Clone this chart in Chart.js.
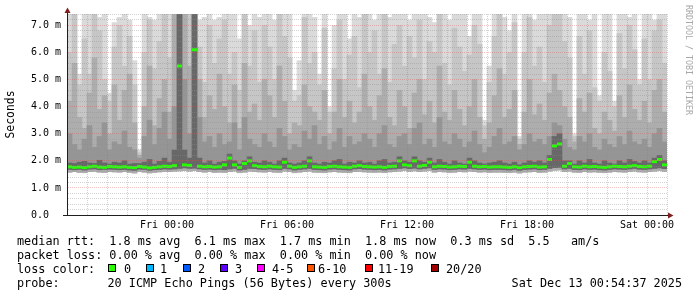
<!DOCTYPE html>
<html>
<head>
<meta charset="utf-8">
<script src="https://cdn.jsdelivr.net/npm/chart.js@4.4.1/dist/chart.umd.min.js"></script>
<style>
  html, body { margin: 0; padding: 0; background: #fff; }
  canvas { display: block; }
</style>
</head>
<body>
<canvas id="smokeChart" width="697" height="297"></canvas>
<script>
// 15 minute columns, Thu 19:00 .. Sat 01:00 (hours from start on the x axis)
const stepHours = 0.25;

const medianRtt = [
  1.78, 1.76, 1.77, 1.75, 1.78, 1.80, 1.77, 1.76, 1.79, 1.78,
  1.77, 1.78, 1.76, 1.75, 1.79, 1.77, 1.74, 1.76, 1.78, 1.80,
  1.79, 1.82, 5.50, 1.85, 1.83, 6.10, 1.80, 1.78, 1.79, 1.77,
  1.78, 1.85, 2.10, 1.85, 1.76, 1.90, 2.00, 1.82, 1.79, 1.78,
  1.80, 1.78, 1.77, 1.95, 1.80, 1.76, 1.78, 1.80, 2.00, 1.78,
  1.77, 1.76, 1.79, 1.80, 1.78, 1.77, 1.76, 1.80, 1.82, 1.79,
  1.78, 1.77, 1.78, 1.76, 1.79, 1.80, 2.00, 1.85, 1.82, 2.00,
  1.80, 1.83, 1.95, 1.78, 1.80, 1.79, 1.77, 1.78, 1.80, 1.79,
  1.95, 1.80, 1.78, 1.79, 1.77, 1.78, 1.78, 1.77, 1.76, 1.78,
  1.75, 1.78, 1.79, 1.80, 1.77, 1.78, 2.05, 2.55, 2.62, 1.80,
  1.90, 1.78, 1.77, 1.80, 1.78, 1.79, 1.77, 1.76, 1.78, 1.80,
  1.79, 1.78, 1.80, 1.82, 1.79, 1.78, 1.80, 1.97, 2.05, 1.85
];

// smoke: highest pings (lightest) down to the ones next to the median (darkest)
const smoke1 = [
  7.5, 7.5, 5.2, 7.5, 7.5, 7.5, 7.3, 7.5, 4.5, 7.1,
  7.3, 7.5, 7.2, 5.7, 2.4, 7.5, 7.3, 7.2, 7.5, 7.5,
  7.5, 7.5, 7.5, 7.5, 7.5, 7.5, 7.2, 7.3, 7.5, 7.2,
  7.3, 7.5, 7.5, 7.5, 6.5, 7.5, 7.0, 7.5, 7.3, 7.5,
  7.5, 7.2, 7.5, 7.5, 7.5, 4.6, 5.7, 7.5, 7.5, 7.3,
  5.2, 7.5, 4.0, 7.0, 7.5, 7.5, 6.5, 7.5, 7.3, 7.5,
  7.5, 7.2, 7.5, 7.5, 7.3, 7.5, 7.5, 7.5, 7.2, 7.5,
  7.5, 7.5, 7.3, 7.1, 7.5, 7.5, 7.2, 7.5, 7.5, 7.5,
  6.6, 7.5, 7.5, 3.5, 5.5, 7.5, 7.5, 7.3, 6.8, 7.5,
  2.9, 7.5, 7.5, 7.2, 7.5, 7.5, 7.5, 7.5, 7.5, 7.5,
  7.3, 3.0, 7.5, 7.5, 7.2, 7.5, 4.4, 7.5, 7.5, 4.2,
  7.5, 7.5, 7.3, 7.5, 5.0, 7.5, 7.5, 7.2, 7.5, 7.5
];
const smoke2 = [
  6.0, 7.5, 4.8, 6.5, 5.2, 7.5, 6.8, 5.0, 4.2, 6.2,
  7.0, 5.5, 6.6, 4.8, 2.3, 6.0, 7.2, 5.4, 6.4, 7.5,
  5.8, 7.5, 7.5, 7.5, 7.5, 7.5, 6.2, 4.9, 7.0, 5.6,
  6.5, 7.2, 5.2, 6.0, 4.6, 7.5, 5.5, 6.8, 4.9, 7.0,
  6.2, 5.0, 7.5, 6.6, 5.8, 4.2, 4.4, 7.3, 5.6, 6.0,
  4.8, 6.9, 3.8, 5.4, 7.2, 5.0, 5.9, 6.6, 4.7, 7.5,
  6.0, 6.8, 5.2, 7.5, 4.9, 6.3, 7.0, 5.5, 6.6, 5.8,
  7.2, 5.0, 6.4, 6.0, 7.5, 5.6, 4.8, 6.9, 6.2, 5.3,
  5.9, 7.0, 6.3, 3.3, 4.9, 6.6, 7.5, 5.2, 6.0, 7.1,
  2.8, 6.0, 7.3, 5.5, 6.2, 4.9, 7.0, 7.5, 7.5, 6.4,
  5.8, 2.9, 6.6, 5.2, 6.8, 4.7, 4.2, 6.0, 5.3, 4.0,
  6.7, 5.4, 7.0, 6.1, 4.8, 6.5, 5.0, 6.8, 7.2, 5.6
];
const smoke3 = [
  4.2, 5.6, 3.6, 3.2, 4.5, 5.8, 3.9, 4.4, 3.0, 4.8,
  3.5, 4.6, 5.2, 3.4, 2.2, 4.0, 5.5, 3.3, 4.3, 5.0,
  3.8, 7.5, 7.5, 7.5, 5.5, 7.5, 5.0, 3.6, 4.4, 3.9,
  5.2, 4.0, 3.4, 4.8, 3.2, 5.6, 3.8, 4.1, 3.5, 5.0,
  4.4, 3.6, 5.5, 4.2, 3.0, 3.4, 3.3, 4.8, 4.0, 3.8,
  3.5, 4.6, 3.0, 3.8, 5.0, 3.6, 4.2, 3.4, 3.8, 5.2,
  4.0, 3.5, 4.4, 5.4, 3.6, 3.3, 4.6, 4.0, 3.2, 4.5,
  5.0, 3.7, 4.2, 3.4, 5.5, 3.8, 3.5, 4.6, 3.9, 3.3,
  4.0, 5.0, 3.6, 2.8, 3.4, 4.4, 5.4, 3.6, 3.9, 4.6,
  2.6, 3.8, 5.0, 3.7, 4.1, 3.5, 4.5, 5.2, 4.6, 4.0,
  3.6, 2.7, 4.3, 3.8, 4.5, 3.2, 3.0, 3.8, 3.5, 3.1,
  4.4, 3.6, 4.8, 3.9, 3.5, 4.2, 3.4, 4.6, 5.0, 3.8
];
const smoke4 = [
  3.0, 2.6, 2.4, 2.8, 3.3, 2.5, 2.9, 3.4, 2.4, 2.7,
  2.6, 3.1, 2.5, 2.4, 2.1, 2.9, 3.5, 2.6, 3.2, 3.8,
  2.8, 4.0, 7.5, 5.0, 3.0, 7.5, 3.6, 2.7, 2.9, 2.5,
  3.0, 2.6, 2.7, 3.4, 2.4, 3.6, 2.8, 2.6, 2.5, 3.0,
  2.7, 2.5, 3.2, 2.9, 2.4, 2.6, 2.5, 3.1, 2.8, 3.3,
  2.6, 2.9, 2.4, 2.7, 3.2, 2.5, 2.9, 2.6, 2.7, 3.0,
  2.8, 2.5, 3.0, 3.3, 2.6, 2.5, 2.9, 3.0, 2.6, 3.2,
  3.4, 2.6, 2.8, 2.5, 3.6, 2.7, 2.6, 3.0, 2.8, 2.5,
  2.7, 3.1, 2.6, 2.3, 2.5, 2.9, 3.2, 2.6, 2.7, 2.9,
  2.4, 2.6, 3.0, 2.7, 2.8, 2.6, 2.9, 3.4, 3.3, 2.8,
  2.5, 2.4, 2.9, 2.7, 3.0, 2.5, 2.4, 2.8, 2.6, 2.5,
  2.9, 2.6, 3.1, 2.7, 2.6, 2.8, 2.5, 3.0, 3.2, 2.7
];
const smoke5 = [
  1.92, 1.90, 1.95, 1.98, 1.92, 1.90, 2.02, 1.92, 1.88, 1.95,
  1.92, 2.00, 1.88, 1.90, 1.90, 1.95, 2.05, 1.88, 1.98, 2.10,
  1.95, 2.40, 7.50, 2.40, 2.10, 7.50, 2.10, 1.92, 2.00, 1.88,
  1.95, 1.98, 2.25, 2.00, 1.88, 2.00, 2.15, 1.95, 1.92, 2.00,
  1.95, 1.88, 2.00, 2.10, 1.92, 1.88, 1.92, 2.00, 2.15, 1.92,
  1.88, 1.95, 1.92, 2.00, 2.05, 1.88, 1.95, 1.92, 2.00, 1.92,
  1.95, 1.88, 2.00, 2.05, 1.92, 1.95, 2.15, 2.00, 1.95, 2.15,
  2.00, 1.95, 2.10, 1.92, 2.05, 1.95, 1.88, 2.00, 1.92, 1.88,
  2.10, 2.00, 1.92, 1.88, 1.92, 1.95, 2.00, 1.92, 1.88, 1.95,
  1.85, 1.92, 2.00, 1.95, 2.00, 1.92, 2.20, 2.90, 3.00, 2.00,
  2.00, 1.88, 2.00, 1.92, 2.05, 1.92, 1.88, 2.00, 1.92, 1.88,
  2.00, 1.92, 2.05, 1.98, 1.92, 2.00, 1.92, 2.10, 2.20, 2.00
];
// lower pings, below the median
const pingLow = [
  1.68, 1.67, 1.68, 1.66, 1.69, 1.70, 1.67, 1.68, 1.69, 1.68,
  1.67, 1.68, 1.66, 1.65, 1.69, 1.68, 1.65, 1.67, 1.68, 1.70,
  1.69, 1.70, 1.72, 1.74, 1.72, 1.73, 1.70, 1.68, 1.69, 1.67,
  1.68, 1.67, 1.70, 1.72, 1.66, 1.68, 1.72, 1.71, 1.69, 1.68,
  1.70, 1.68, 1.67, 1.72, 1.70, 1.66, 1.68, 1.70, 1.72, 1.68,
  1.67, 1.66, 1.69, 1.70, 1.68, 1.67, 1.66, 1.70, 1.71, 1.69,
  1.68, 1.67, 1.68, 1.66, 1.69, 1.70, 1.72, 1.74, 1.71, 1.73,
  1.70, 1.72, 1.74, 1.68, 1.70, 1.69, 1.67, 1.68, 1.70, 1.69,
  1.72, 1.70, 1.68, 1.69, 1.67, 1.68, 1.68, 1.67, 1.66, 1.68,
  1.65, 1.68, 1.69, 1.70, 1.67, 1.68, 1.72, 1.75, 1.76, 1.70,
  1.72, 1.68, 1.67, 1.70, 1.68, 1.69, 1.67, 1.66, 1.68, 1.70,
  1.69, 1.68, 1.70, 1.72, 1.69, 1.68, 1.70, 1.72, 1.74, 1.71
];
const pingMin = [
  1.58, 1.60, 1.57, 1.56, 1.60, 1.61, 1.58, 1.57, 1.60, 1.59,
  1.58, 1.60, 1.57, 1.55, 1.60, 1.58, 1.55, 1.57, 1.59, 1.61,
  1.60, 1.62, 1.63, 1.64, 1.62, 1.64, 1.60, 1.58, 1.60, 1.57,
  1.58, 1.57, 1.60, 1.62, 1.56, 1.58, 1.62, 1.60, 1.59, 1.58,
  1.60, 1.58, 1.57, 1.62, 1.60, 1.56, 1.58, 1.60, 1.62, 1.58,
  1.57, 1.56, 1.59, 1.60, 1.58, 1.57, 1.56, 1.60, 1.61, 1.59,
  1.58, 1.57, 1.58, 1.56, 1.59, 1.60, 1.62, 1.64, 1.61, 1.63,
  1.60, 1.62, 1.64, 1.58, 1.60, 1.59, 1.57, 1.58, 1.60, 1.59,
  1.62, 1.60, 1.58, 1.59, 1.57, 1.58, 1.58, 1.57, 1.56, 1.58,
  1.55, 1.58, 1.59, 1.60, 1.57, 1.58, 1.62, 1.65, 1.66, 1.60,
  1.62, 1.58, 1.57, 1.60, 1.58, 1.59, 1.57, 1.56, 1.58, 1.60,
  1.59, 1.58, 1.60, 1.62, 1.59, 1.58, 1.60, 1.62, 1.64, 1.61
];

const xTickHours = [5, 11, 17, 23, 29];
const xTickLabels = ['Fri 00:00', 'Fri 06:00', 'Fri 12:00', 'Fri 18:00', 'Sat 00:00'];
const yTickLabels = ['0.0  ', '1.0 m', '2.0 m', '3.0 m', '4.0 m', '5.0 m', '6.0 m', '7.0 m'];

const rttStats = [1.8, 6.1, 1.7, 1.8, 0.3];
const rttStatNames = ['avg', 'max', 'min', 'now', 'sd'];
const ampsValue = 5.5;
const lossStats = [0, 0, 0, 0];
const lossStatNames = ['avg', 'max', 'min', 'now'];
const lossLabels = ['0', '1', '2', '3', '4-5', '6-10', '11-19', '20/20'];
const lossColors = ['#26ff00', '#00b8ff', '#0059ff', '#5e00ff', '#ff00ff', '#ff5500', '#ff0000', '#a10000'];
const probeText = '20 ICMP Echo Pings (56 Bytes) every 300s';
const stampText = 'Sat Dec 13 00:54:37 2025';

const mono = 'DejaVu Sans Mono';
const gridMinor = 'rgba(143,143,143,0.4)';
const gridMajor = 'rgba(222,79,79,0.35)';

const colX = medianRtt.map((_, i) => (i + 0.5) * stepHours);
function band(lo, hi) {
  return hi.map((v, i) => ({ x: colX[i], y: [lo[i], v] }));
}

const shades = ['#dadada', '#c6c6c6', '#adadad', '#959595', '#686868'];
const smokeSets = [
  band(pingMin, smoke1),
  band(pingMin, smoke2),
  band(pingMin, smoke3),
  band(pingLow, smoke4),
  band(pingLow, smoke5)
].map((data, k) => ({
  type: 'bar',
  data: data,
  backgroundColor: shades[k],
  borderWidth: 0,
  grouped: false,
  barPercentage: 1,
  categoryPercentage: 1,
  order: 10 - k
}));

const medianSet = {
  type: 'line',
  data: medianRtt.map((v, i) => ({ x: colX[i], y: v })),
  showLine: false,
  pointStyle: 'line',
  pointRadius: 2.5,
  pointBorderWidth: 3,
  pointBorderColor: lossColors[0],
  pointBackgroundColor: lossColors[0],
  order: 0
};

// axis arrows, watermark and the smokeping legend block
const decor = {
  id: 'decor',
  afterDraw(chart) {
    const { ctx, chartArea: a } = chart;
    ctx.save();

    ctx.strokeStyle = '#1f1f1f';
    ctx.lineWidth = 1;
    ctx.beginPath();
    ctx.moveTo(a.left + 0.5, a.bottom);
    ctx.lineTo(a.left + 0.5, 10);
    ctx.moveTo(a.left - 4, a.bottom + 0.5);
    ctx.lineTo(a.right + 4, a.bottom + 0.5);
    ctx.stroke();

    ctx.fillStyle = '#801f1f';
    ctx.beginPath();
    ctx.moveTo(a.left + 0.5, 7.5);
    ctx.lineTo(a.left - 2.5, 13);
    ctx.lineTo(a.left + 3.5, 13);
    ctx.closePath();
    ctx.fill();
    ctx.beginPath();
    ctx.moveTo(a.right + 6.5, a.bottom + 0.5);
    ctx.lineTo(a.right + 1, a.bottom - 2.5);
    ctx.lineTo(a.right + 1, a.bottom + 3.5);
    ctx.closePath();
    ctx.fill();

    ctx.save();
    ctx.translate(688, 5);
    ctx.rotate(Math.PI / 2);
    ctx.font = '8.3px "' + mono + '"';
    ctx.fillStyle = '#a8a8a8';
    ctx.textAlign = 'left';
    ctx.textBaseline = 'middle';
    ctx.fillText('RRDTOOL / TOBI OETIKER', 0, 0);
    ctx.restore();

    ctx.font = '11.8px "' + mono + '"';
    ctx.fillStyle = '#000';
    ctx.textAlign = 'left';
    ctx.textBaseline = 'alphabetic';
    const rttLine = 'median rtt:  ' +
      rttStats.map((v, i) => v.toFixed(1) + ' ms ' + rttStatNames[i]).join('  ') +
      '  ' + ampsValue.toFixed(1) + '   am/s';
    const lossLine = 'packet loss: ' +
      lossStats.map((v, i) => v.toFixed(2) + ' % ' + lossStatNames[i]).join('  ');
    ctx.fillText(rttLine, 17, 245);
    ctx.fillText(lossLine, 17, 259);
    ctx.fillText('loss color:', 17, 273);
    ctx.fillText('probe:', 17, 287);
    ctx.fillText(probeText, 107.5, 287);
    ctx.textAlign = 'right';
    ctx.fillText(stampText, 682, 287);

    const boxX = [108, 146, 183, 220, 257, 307, 365, 431];
    const textX = [124, 160, 198, 235, 272, 318, 378, 446];
    ctx.textAlign = 'left';
    lossLabels.forEach((lab, i) => {
      ctx.fillStyle = lossColors[i];
      ctx.fillRect(boxX[i], 264, 8, 8);
      ctx.strokeStyle = '#000';
      ctx.strokeRect(boxX[i] + 0.5, 264.5, 7, 7);
      ctx.fillStyle = '#000';
      ctx.fillText(lab, textX[i], 273);
    });

    ctx.restore();
  }
};

new Chart(document.getElementById('smokeChart').getContext('2d'), {
  type: 'bar',
  data: { datasets: [medianSet, ...smokeSets] },
  options: {
    responsive: false,
    animation: false,
    devicePixelRatio: 1,
    events: [],
    layout: { padding: { top: 14, right: 30, bottom: 0, left: 0 } },
    plugins: {
      legend: { display: false },
      tooltip: { enabled: false }
    },
    scales: {
      x: {
        type: 'linear',
        min: 0,
        max: 30,
        offset: false,
        grid: {
          offset: false,
          drawTicks: false,
          z: 1,
          color: c => ((Math.round(c.tick.value) - 2) % 3 === 0 ? gridMajor : gridMinor)
        },
        border: { color: '#1f1f1f', dash: [1, 1], z: 2 },
        ticks: {
          stepSize: 1,
          maxTicksLimit: 100,
          autoSkip: false,
          maxRotation: 0,
          padding: 4,
          color: '#000',
          font: { family: mono, size: 10 },
          callback: v => {
            const k = xTickHours.indexOf(Math.round(v));
            return k >= 0 && Math.abs(v - Math.round(v)) < 1e-6 ? xTickLabels[k] : '';
          }
        },
        afterFit: s => { s.height = 82; }
      },
      y: {
        min: 0,
        max: 7.42,
        grid: {
          drawTicks: false,
          z: 1,
          color: c => (Math.abs(c.tick.value - Math.round(c.tick.value)) < 1e-6 ? gridMajor : gridMinor)
        },
        border: { color: '#1f1f1f', dash: [1, 1], z: 2 },
        ticks: {
          stepSize: 0.2,
          maxTicksLimit: 100,
          includeBounds: false,
          autoSkip: false,
          padding: 6,
          color: '#000',
          font: { family: mono, size: 10 },
          callback: v => {
            const r = Math.round(v);
            return Math.abs(v - r) < 1e-6 ? (yTickLabels[r] || '') : '';
          }
        },
        title: {
          display: true,
          text: 'Seconds',
          color: '#000',
          font: { family: mono, size: 11.4 },
          padding: { top: 4, bottom: 0 }
        },
        afterFit: s => { s.width = 67; }
      }
    }
  },
  plugins: [decor]
});
</script>
</body>
</html>
